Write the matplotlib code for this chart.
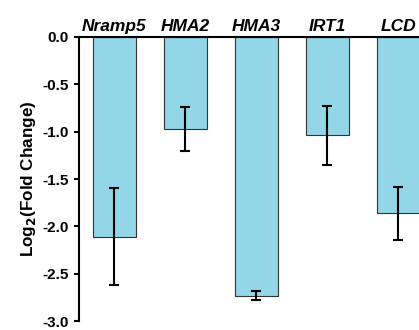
import numpy as np
import matplotlib.pyplot as plt

plt.rcParams['font.family'] = ['Liberation Sans', 'DejaVu Sans']

genes = ['Nramp5', 'HMA2', 'HMA3', 'IRT1', 'LCD']
log2fc = [-2.11, -0.97, -2.73, -1.04, -1.86]
err = [0.51, 0.23, 0.05, 0.31, 0.28]
yticks = [0.0, -0.5, -1.0, -1.5, -2.0, -2.5, -3.0]

fig = plt.figure(figsize=(4.19, 3.30), dpi=100)
# axes runs past the right edge, the last bar is cut like in the source
ax = fig.add_axes([0.1885, 0.027, 0.847, 0.861])

x = np.arange(len(genes))
ax.bar(x, log2fc, width=0.6, color='#93D6E8', edgecolor='#333333', linewidth=0.8, zorder=2)
ax.errorbar(x, log2fc, yerr=err, fmt='none', ecolor='black', elinewidth=1.5,
            capsize=3.8, capthick=1.5, zorder=3)

ax.set_xlim(-0.5, 4.5)
ax.set_ylim(-3.0, 0.0)
ax.set_yticks(yticks)
ax.set_yticklabels([f'{v:.1f}' for v in yticks], fontweight='bold', fontsize=11)

ax.xaxis.tick_top()
ax.set_xticks(x)
ax.set_xticklabels(genes, fontweight='bold', style='italic', fontsize=12.5)
ax.tick_params(axis='x', length=0, pad=2)
ax.tick_params(axis='y', length=3.5, width=1.5, pad=4)

for s in ['bottom', 'right']:
    ax.spines[s].set_visible(False)
ax.spines['left'].set_linewidth(1.5)
ax.spines['top'].set_linewidth(1.5)

ax.set_ylabel('Log$_\\mathbf{2}$(Fold Change)', fontweight='bold', fontsize=12.3, labelpad=3)

fig.savefig('out.png', dpi=100)
